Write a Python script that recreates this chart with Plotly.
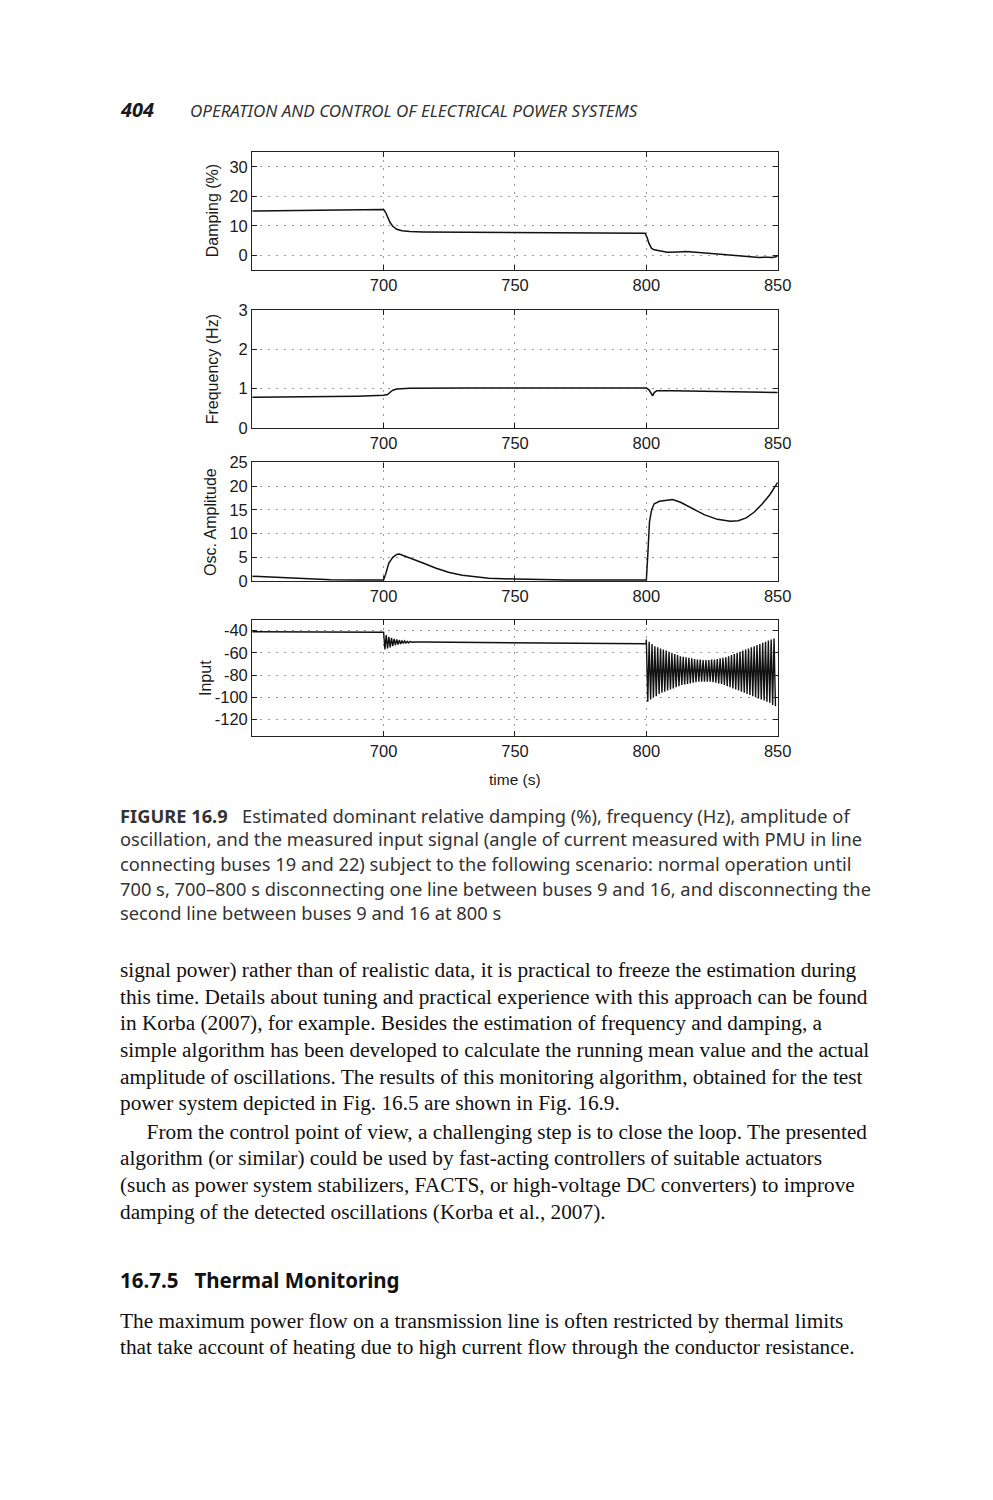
import plotly.graph_objects as go

# ---------------- data ----------------
damp_t = [650, 660, 670, 680, 690, 699, 700, 700.8, 701.5, 702.5, 703.5, 705, 707, 710, 715, 730, 750, 770, 790, 799.5,
          800.3, 801, 802, 803, 805, 808, 812, 815, 820, 825, 830, 835, 840, 843, 846, 848, 850]
damp_v = [15.0, 15.1, 15.2, 15.3, 15.4, 15.5, 15.5, 14.5, 13.0, 11.0, 9.8, 8.8, 8.3, 8.0, 7.9, 7.8, 7.8, 7.7, 7.5, 7.4,
          6.0, 4.0, 2.3, 1.8, 1.5, 1.0, 1.1, 1.2, 0.9, 0.5, 0.2, -0.1, -0.6, -0.8, -0.7, -0.8, -0.4]

freq_t = [650, 670, 690, 700, 701.5, 702.5, 703.5, 705, 707, 710, 730, 760, 790, 800, 801, 801.8, 802.4, 803, 804, 810, 820, 830, 840, 850]
freq_v = [0.78, 0.79, 0.81, 0.83, 0.85, 0.91, 0.96, 0.99, 1.0, 1.01, 1.02, 1.02, 1.02, 1.02, 0.97, 0.86, 0.82, 0.9, 0.95, 0.95, 0.94, 0.93, 0.92, 0.90]

amp_t = [650, 660, 670, 680, 690, 700, 700.8, 702, 703.5, 705, 706, 708, 711, 715, 720, 725, 730, 740, 750, 770, 790, 800,
         800.6, 801.2, 802, 803, 805, 808, 810, 813, 817, 822, 827, 832, 835, 838, 841, 844, 847, 850]
amp_v = [1.0, 0.7, 0.4, 0.25, 0.2, 0.2, 1.5, 3.8, 5.0, 5.6, 5.7, 5.3, 4.6, 3.8, 2.7, 1.8, 1.2, 0.6, 0.4, 0.2, 0.2, 0.2,
         6.0, 12.5, 15.0, 16.3, 16.8, 17.1, 17.2, 16.6, 15.4, 14.0, 13.0, 12.6, 12.7, 13.3, 14.5, 16.2, 18.2, 20.8]

# input signal: steady part
inp_t_pre = [650, 670, 690, 699.9]
inp_v_pre = [-41.0, -41.2, -41.3, -41.5]
# transient after 700 s (alternating peak / trough values)
inp_tr_t = [700.0, 700.5, 701.0, 701.5, 702.0, 702.5, 703.0, 703.5, 704.0, 704.5, 705.0, 705.5, 706.0, 706.5,
            707.0, 707.5, 708.0, 708.5, 709.0, 709.5, 710.0, 711.0, 712.0]
inp_tr_v = [-41.5, -57.0, -44.0, -56.0, -45.5, -55.0, -46.5, -54.0, -47.5, -53.0, -48.0, -52.5, -48.5, -52.0,
            -49.0, -51.5, -49.3, -51.2, -49.6, -51.0, -49.8, -50.5, -50.2]
inp_t_mid = [715, 730, 750, 770, 790, 799.9]
inp_v_mid = [-50.3, -50.6, -51.0, -51.3, -51.6, -51.8]
# oscillation after 800 s
osc_start = 800.0
osc_half_period = 0.54
osc_peaks = [-48, -50, -52, -54, -55, -56, -57, -58, -59, -60, -61, -62, -63, -63.5, -64, -64.5, -65, -65.5,
             -66, -66, -66.5, -66.5, -66.5, -66, -66, -65.5, -65, -64.5, -64, -63, -62, -61, -60, -59, -58,
             -57, -56, -55, -54, -53, -52, -51, -50, -49, -48, -47]
osc_troughs = [-104, -102, -100, -99, -97, -96, -95, -94, -93, -92, -91, -90, -89, -88.5, -88, -87.5, -87,
               -86.5, -86, -86, -86, -86, -86, -86.5, -87, -87.5, -88, -89, -90, -91, -92, -93, -94, -95, -96,
               -97, -98, -99, -100, -101, -102, -103, -104, -105, -107, -108]

xticks = [700, 750, 800, 850]
damp_ticks = [0, 10, 20, 30]
freq_ticks = [0, 1, 2, 3]
amp_ticks = [0, 5, 10, 15, 20, 25]
inp_ticks = [-40, -60, -80, -100, -120]

# build oscillation series from listed extrema
osc_t, osc_v = [], []
for i, (p, q) in enumerate(zip(osc_peaks, osc_troughs)):
    osc_t.append(osc_start + (2 * i) * osc_half_period)
    osc_v.append(p)
    osc_t.append(osc_start + (2 * i + 1) * osc_half_period)
    osc_v.append(q)
inp_t = inp_t_pre + inp_tr_t + inp_t_mid + osc_t
inp_v = inp_v_pre + inp_tr_v + inp_v_mid + osc_v

# ---------------- figure ----------------
W, H = 993, 1490
XS = 0.985  # horizontal correction for the photographed page


def X(px):
    return px / XS / W


def Y(px):
    return 1 - px / H


fig = go.Figure()

xdom = [X(252), X(777)]
panels = [
    (damp_t, damp_v, [-5, 35], damp_ticks, [Y(264), Y(145)], "Damping (%)", 212),
    (freq_t, freq_v, [0, 3], freq_ticks, [Y(424), Y(305)], "Frequency (Hz)", 212),
    (amp_t, amp_v, [0, 25], amp_ticks, [Y(579), Y(459)], "Osc. Amplitude", 211),
    (inp_t, inp_v, [-135, -30], inp_ticks, [Y(736), Y(618)], "Input", 206),
]

tickfont = dict(family="Liberation Sans, Arial, sans-serif", size=16.5, color="#1a1a1a")
for i, (tx, ty, yr, yt, yd, ttl, tx_px) in enumerate(panels):
    n = i + 1
    xa = "x" if n == 1 else f"x{n}"
    ya = "y" if n == 1 else f"y{n}"
    fig.add_trace(go.Scatter(x=tx, y=ty, mode="lines", xaxis=xa, yaxis=ya,
                             line=dict(color="#111", width=1.5 if n != 4 else 1.4),
                             showlegend=False, hoverinfo="skip"))
    axcommon = dict(showline=True, linecolor="#222", linewidth=1.3, mirror="allticks",
                    ticks="inside", ticklen=5, tickcolor="#222", tickfont=tickfont,
                    showgrid=True, gridcolor="#999", griddash="2px,6px", gridwidth=1, zeroline=False)
    fig.layout[("xaxis" if n == 1 else f"xaxis{n}")] = dict(
        domain=xdom, range=[650, 850], tickvals=xticks, ticktext=[str(v) for v in xticks],
        anchor=ya, **axcommon)
    fig.layout[("yaxis" if n == 1 else f"yaxis{n}")] = dict(
        domain=yd, range=yr, tickvals=yt, ticktext=[str(v) for v in yt], anchor=xa, **axcommon)
    yc = (yd[0] + yd[1]) / 2
    fig.add_annotation(text=ttl, xref="paper", yref="paper", x=X(tx_px), y=yc, textangle=-90,
                       showarrow=False, xanchor="center", yanchor="middle",
                       font=dict(family="Liberation Sans, Arial, sans-serif", size=16, color="#1a1a1a"))

fig.add_annotation(text="time (s)", xref="paper", yref="paper", x=X(515), y=Y(780),
                   showarrow=False, xanchor="center", yanchor="middle",
                   font=dict(family="Liberation Sans, Arial, sans-serif", size=15.5, color="#1a1a1a"))

# ---------------- page text ----------------
def txt(s, x, y, size, family, color="#1a1a1a"):
    fig.add_annotation(text=s, xref="paper", yref="paper", x=X(x), y=Y(y), showarrow=False,
                       xanchor="left", yanchor="middle", align="left",
                       font=dict(family=family, size=size, color=color))


LX = 118
txt("<b><i>404</i></b>", LX, 102, 20, "Noto Sans, sans-serif")
txt("<i>OPERATION AND CONTROL OF ELECTRICAL POWER SYSTEMS</i>", 188, 103, 17, "Noto Sans, sans-serif", "#333")

cap_font = "Noto Sans, sans-serif"
caption = [
    "<b>FIGURE 16.9</b>   Estimated dominant relative damping (%), frequency (Hz), amplitude of",
    "oscillation, and the measured input signal (angle of current measured with PMU in line",
    "connecting buses 19 and 22) subject to the following scenario: normal operation until",
    "700 s, 700–800 s disconnecting one line between buses 9 and 16, and disconnecting the",
    "second line between buses 9 and 16 at 800 s",
]
cap_y = [816, 840, 865, 890, 915]
for s, y in zip(caption, cap_y):
    txt(s, LX, y, 18.3, cap_font, "#333")

body_font = "Liberation Serif, Times New Roman, serif"
body = [
    "signal power) rather than of realistic data, it is practical to freeze the estimation during",
    "this time. Details about tuning and practical experience with this approach can be found",
    "in Korba (2007), for example. Besides the estimation of frequency and damping, a",
    "simple algorithm has been developed to calculate the running mean value and the actual",
    "amplitude of oscillations. The results of this monitoring algorithm, obtained for the test",
    "power system depicted in Fig. 16.5 are shown in Fig. 16.9.",
    "     From the control point of view, a challenging step is to close the loop. The presented",
    "algorithm (or similar) could be used by fast-acting controllers of suitable actuators",
    "(such as power system stabilizers, FACTS, or high-voltage DC converters) to improve",
    "damping of the detected oscillations (Korba et al., 2007).",
]
body_y = [973, 1000, 1026, 1054, 1081, 1107, 1137, 1163, 1190, 1218]
for s, y in zip(body, body_y):
    txt(s, LX, y, 21.3, body_font, "#111")

txt("<b>16.7.5   Thermal Monitoring</b>", LX, 1287, 20.5, "Noto Sans, sans-serif", "#111")
txt("The maximum power flow on a transmission line is often restricted by thermal limits", LX, 1328, 21.3, body_font, "#111")
txt("that take account of heating due to high current flow through the conductor resistance.", LX, 1354, 21.3, body_font, "#111")

fig.update_layout(width=W, height=H, autosize=False, margin=dict(l=0, r=0, t=0, b=0, pad=0),
                  paper_bgcolor="white", plot_bgcolor="white", showlegend=False)

fig.write_html("out.html")
